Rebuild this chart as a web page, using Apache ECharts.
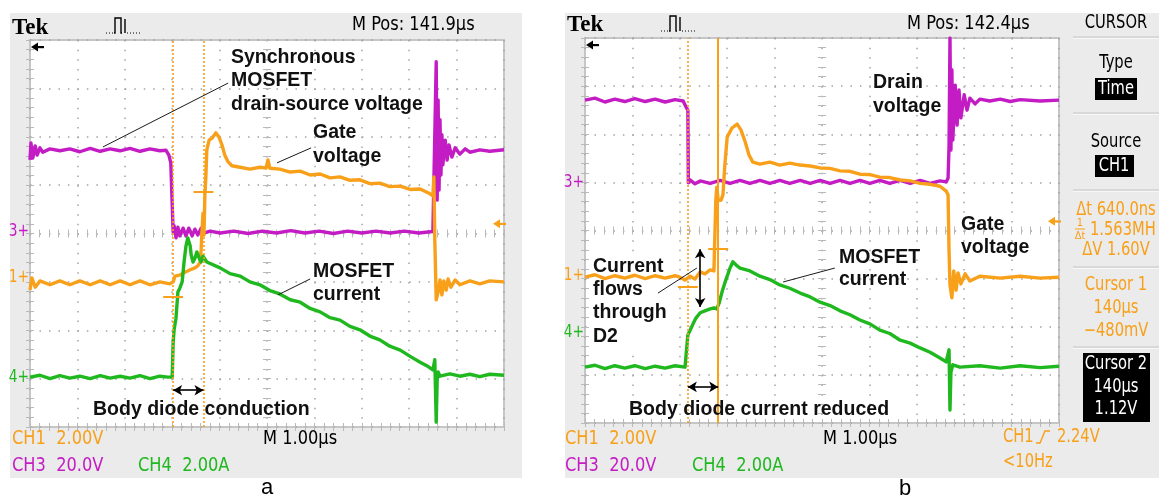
<!DOCTYPE html>
<html>
<head>
<meta charset="utf-8">
<script src="https://cdn.jsdelivr.net/npm/echarts@6/dist/echarts.min.js"></script>
<style>
html,body{margin:0;padding:0;background:#fff;}
#scope{width:1159px;height:496px;}
</style>
</head>
<body>
<div id="scope"></div>
<script>
// Time is in divisions from the left edge of the screen (1.00 µs/div),
// level is in divisions from the bottom of the graticule (8 divisions high).

// ---- screen a: synchronous MOSFET, body diode conducting ----
const gateA = [
  [0,2.83],[0.04,3.08],[0.11,2.89],[0.21,3.02],[0.42,2.94],[0.63,3.02],[0.84,2.94],[1.05,3.02],[1.27,2.94],
  [1.48,3.02],[1.69,2.94],[1.90,3.02],[2.11,2.94],[2.32,3.02],[2.53,2.94],[2.74,3.00],[2.95,2.96],[3.02,3.00],
  [3.06,3.12],[3.16,3.14],[3.27,3.20],[3.38,3.25],[3.48,3.29],[3.54,3.33],[3.59,3.41],[3.61,3.66],[3.63,4.07],
  [3.65,4.42],[3.67,3.97],[3.69,4.80],[3.71,5.17],[3.73,5.73],[3.78,5.93],[3.84,5.97],[3.92,6.08],[3.99,5.99],
  [4.05,5.83],[4.11,5.62],[4.18,5.48],[4.26,5.40],[4.43,5.37],[4.64,5.33],[4.85,5.37],[4.98,5.35],[5.02,5.52],
  [5.06,5.35],[5.27,5.33],[5.49,5.27],[5.70,5.29],[5.91,5.21],[6.12,5.23],[6.33,5.15],[6.54,5.17],[6.75,5.10],
  [6.96,5.11],[7.17,5.03],[7.38,5.04],[7.59,4.97],[7.81,4.98],[8.02,4.91],[8.23,4.92],[8.44,4.82],[8.50,4.78],
  [8.52,5.17],[8.54,3.87],[8.57,2.63],[8.61,2.79],[8.65,3.04],[8.69,2.73],[8.73,3.02],[8.78,2.83],[8.82,3.06],
  [8.88,2.89],[8.97,3.04],[9.07,2.94],[9.28,3.02],[9.49,2.96],[9.70,3.02],[10,3.00]
];
const drainA = [
  [0,5.52],[0.02,5.87],[0.06,5.56],[0.11,5.81],[0.15,5.62],[0.21,5.77],[0.27,5.68],[0.42,5.75],[0.63,5.71],
  [0.84,5.75],[1.05,5.69],[1.27,5.76],[1.48,5.70],[1.69,5.75],[1.90,5.71],[2.11,5.76],[2.32,5.70],[2.53,5.75],
  [2.74,5.71],[2.87,5.72],[2.93,5.62],[2.97,5.46],[3.01,5.46],[3.02,4.03],[3.04,4.16],[3.08,3.91],[3.12,4.13],
  [3.16,3.95],[3.23,4.11],[3.29,3.95],[3.35,4.11],[3.42,3.95],[3.48,4.09],[3.54,3.97],[3.61,4.11],[3.67,4.01],
  [3.80,4.05],[4.01,4.01],[4.30,4.05],[4.60,4.00],[4.90,4.05],[5.20,4.01],[5.50,4.06],[5.80,4.01],[6.10,4.05],
  [6.40,4.00],[6.70,4.05],[7.00,4.01],[7.30,4.05],[7.60,4.01],[7.90,4.05],[8.20,4.01],[8.50,4.04],[8.52,4.07],
  [8.57,7.55],[8.59,4.69],[8.61,6.76],[8.63,4.90],[8.65,6.35],[8.67,5.21],[8.69,6.04],[8.71,5.42],[8.76,5.93],
  [8.80,5.52],[8.84,5.83],[8.90,5.58],[8.97,5.77],[9.07,5.64],[9.18,5.75],[9.28,5.68],[9.49,5.73],[9.70,5.70],[10,5.73]
];
const currentA = [
  [0,1.03],[0.21,1.07],[0.42,1.00],[0.63,1.06],[0.84,1.01],[1.05,1.05],[1.27,1.00],[1.48,1.06],[1.69,1.01],
  [1.90,1.05],[2.11,1.01],[2.32,1.06],[2.53,1.00],[2.74,1.05],[2.91,1.03],[2.95,1.01],[3.00,1.03],[3.02,1.74],
  [3.04,2.01],[3.08,2.25],[3.12,2.79],[3.16,2.87],[3.21,3.00],[3.25,3.41],[3.29,3.74],[3.33,3.91],[3.38,3.74],
  [3.40,3.56],[3.44,3.41],[3.48,3.49],[3.52,3.62],[3.57,3.49],[3.61,3.41],[3.65,3.53],[3.69,3.49],[3.73,3.41],
  [4.01,3.29],[4.22,3.17],[4.43,3.12],[4.64,3.00],[4.85,2.94],[5.06,2.82],[5.27,2.75],[5.49,2.63],[5.70,2.58],
  [5.91,2.45],[6.12,2.38],[6.33,2.26],[6.54,2.21],[6.75,2.08],[6.96,2.01],[7.17,1.88],[7.38,1.80],[7.59,1.67],
  [7.81,1.59],[8.02,1.46],[8.23,1.34],[8.40,1.25],[8.50,1.18],[8.52,1.14],[8.54,1.39],[8.57,0.10],[8.59,0.97],
  [8.61,1.14],[8.65,1.05],[8.86,1.10],[9.07,1.05],[9.28,1.09],[9.49,1.04],[9.70,1.09],[10,1.07]
];
// ground markers CH1, CH3, CH4
const groundA = [3.08, 4.03, 1.03];
const cursorTimeA = [3.02, 3.66];
const cursorLevelA = [2.69, 4.86];
const conductionArrowLevelA = 0.76;
const leadersA = [
  [[4.18, 7.11], [1.54, 5.79]],
  [[5.93, 5.77], [5.21, 5.46]],
  [[5.91, 3.06], [5.23, 2.73]]
];

// ---- screen b: body diode current reduced ----
const gateB = [
  [0,3.03],[0.21,3.08],[0.42,3.00],[0.63,3.06],[0.84,3.01],[1.05,3.07],[1.27,3.00],[1.48,3.06],[1.69,3.01],
  [1.90,3.06],[2.00,3.03],[2.11,2.97],[2.22,3.05],[2.32,2.99],[2.43,3.14],[2.53,3.10],[2.64,3.18],[2.72,3.16],
  [2.76,4.63],[2.78,4.90],[2.81,4.63],[2.87,4.63],[2.91,4.74],[2.95,5.36],[3.00,5.94],[3.10,6.13],[3.21,6.21],
  [3.29,6.09],[3.38,5.84],[3.46,5.57],[3.54,5.42],[3.69,5.38],[3.90,5.42],[4.11,5.36],[4.32,5.40],[4.54,5.36],
  [4.75,5.34],[4.96,5.30],[5.17,5.29],[5.38,5.24],[5.59,5.23],[5.80,5.17],[6.01,5.16],[6.22,5.11],[6.43,5.10],
  [6.65,5.05],[6.86,5.03],[7.07,4.98],[7.28,4.96],[7.49,4.92],[7.62,4.82],[7.66,4.74],[7.68,3.59],[7.70,2.87],
  [7.74,2.60],[7.78,3.16],[7.83,2.76],[7.87,3.12],[7.93,2.89],[8.02,3.10],[8.12,2.95],[8.33,3.05],[8.76,3.01],
  [9.18,3.05],[9.60,3.01],[10,3.03]
];
const drainB = [
  [0,6.71],[0.21,6.75],[0.42,6.67],[0.63,6.73],[0.84,6.68],[1.05,6.74],[1.27,6.68],[1.48,6.73],[1.69,6.67],
  [1.90,6.72],[2.07,6.69],[2.13,6.57],[2.17,6.50],[2.18,4.99],[2.22,5.05],[2.32,4.97],[2.43,5.03],[2.64,4.98],
  [2.85,5.04],[3.06,4.98],[3.27,5.04],[3.48,4.98],[3.69,5.04],[3.90,4.98],[4.11,5.04],[4.32,4.98],[4.54,5.04],
  [4.75,4.98],[4.96,5.04],[5.17,4.98],[5.38,5.04],[5.59,4.98],[5.80,5.04],[6.01,4.98],[6.22,5.04],[6.43,4.98],
  [6.65,5.04],[6.86,4.98],[7.07,5.04],[7.28,4.98],[7.49,5.03],[7.62,5.01],[7.66,5.09],[7.68,5.76],[7.70,8.00],
  [7.72,5.67],[7.74,7.34],[7.76,5.88],[7.81,7.02],[7.85,6.19],[7.89,6.92],[7.93,6.34],[8.00,6.82],[8.06,6.50],
  [8.12,6.75],[8.23,6.63],[8.33,6.73],[8.54,6.69],[8.76,6.73],[8.97,6.68],[9.18,6.72],[9.60,6.69],[10,6.71]
];
const currentB = [
  [0,1.16],[0.21,1.20],[0.42,1.13],[0.63,1.19],[0.84,1.14],[1.05,1.19],[1.27,1.13],[1.48,1.18],[1.69,1.14],
  [1.90,1.19],[2.11,1.16],[2.15,1.18],[2.17,1.83],[2.22,1.93],[2.28,2.06],[2.34,2.18],[2.43,2.29],[2.53,2.33],
  [2.64,2.37],[2.72,2.39],[2.78,2.37],[2.83,2.49],[2.89,2.72],[2.97,2.97],[3.06,3.22],[3.12,3.35],[3.19,3.28],
  [3.27,3.22],[3.48,3.16],[3.69,3.05],[3.90,2.98],[4.11,2.87],[4.32,2.80],[4.54,2.70],[4.75,2.62],[4.96,2.51],
  [5.17,2.44],[5.38,2.33],[5.59,2.25],[5.80,2.14],[6.01,2.06],[6.22,1.93],[6.43,1.86],[6.65,1.72],[6.86,1.66],
  [7.07,1.56],[7.28,1.47],[7.49,1.35],[7.62,1.27],[7.66,1.25],[7.68,1.52],[7.70,0.27],[7.72,1.06],[7.76,1.21],
  [7.91,1.16],[8.33,1.19],[8.76,1.14],[9.18,1.19],[9.60,1.15],[10,1.18]
];
const groundB = [3.07, 4.99, 1.87];
const cursor1TimeB = 2.17;          // div
const cursorDeltaB = 0.64;          // div = 640 ns
const cursorVoltsB = [-0.48, 1.12]; // V on CH1
const triggerVolts = 2.24;          // V on CH1
const ch1VoltsPerDiv = 2.0;
const reducedArrowLevelB = 0.75;
const d2ArrowB = [[2.43, 3.61], [2.43, 2.41]];
const leadersB = [
  [[5.27, 3.22], [4.18, 2.93]],
  [[1.54, 2.70], [2.36, 3.22]]
];

// readouts
const channelScales = ['CH1  2.00V', 'CH3  20.0V', 'CH4  2.00A'];
const timeBase = 'M 1.00\u00b5s';
const horizPos = ['M Pos: 141.9\u00b5s', 'M Pos: 142.4\u00b5s'];

const ORANGE = '#f8a01a', PURPLE = '#c41cc4', GREEN = '#1fb81f';
const GRAT = '#b9b9b9', DOT = '#a3a3a3', PANEL = '#ebebeb';
const UI = '"Liberation Sans Narrow","DejaVu Sans Condensed","Liberation Sans",sans-serif';
const ANN = '"Liberation Sans",Arial,sans-serif';

const screens = [
  {left: 30, top: 40, width: 474, height: 387},
  {left: 585, top: 38, width: 474, height: 385}
];

function axesFor(gi, p) {
  const xDot = p.width / 50, yDot = p.height / 40;
  const tick = {show: true, inside: true, length: 4, lineStyle: {color: GRAT, width: 1}};
  const minor = {show: true, splitNumber: 5, length: 4, lineStyle: {color: GRAT, width: 1}};
  const centerTick = {show: true, inside: true, length: 8, lineStyle: {color: GRAT, width: 1}};
  const centerMinor = {show: true, splitNumber: 5, length: 8, lineStyle: {color: GRAT, width: 1}};
  const base = {gridIndex: gi, type: 'value', min: 0, interval: 1, axisLine: {show: false}, axisLabel: {show: false}, silent: true};
  const xs = [
    Object.assign({}, base, {max: 10, position: 'bottom', axisTick: tick, minorTick: minor,
      splitLine: {show: true, lineStyle: {color: DOT, width: 1.5, type: [1.5, yDot - 1.5]}}}),
    Object.assign({}, base, {max: 10, position: 'top', axisTick: tick, minorTick: minor, splitLine: {show: false}}),
    Object.assign({}, base, {max: 10, position: 'bottom', offset: -(p.height / 2 - 4), axisTick: centerTick, minorTick: centerMinor, splitLine: {show: false}})
  ];
  const ys = [
    Object.assign({}, base, {max: 8, position: 'left', axisTick: tick, minorTick: minor,
      splitLine: {show: true, lineStyle: {color: DOT, width: 1.5, type: [1.5, xDot - 1.5]}}}),
    Object.assign({}, base, {max: 8, position: 'right', axisTick: tick, minorTick: minor, splitLine: {show: false}}),
    Object.assign({}, base, {max: 8, position: 'left', offset: -(p.width / 2 - 4), axisTick: centerTick, minorTick: centerMinor, splitLine: {show: false}})
  ];
  return {xs, ys};
}

const axA = axesFor(0, screens[0]);
const axB = axesFor(1, screens[1]);

function trace(data, color, axisIdx, z) {
  return {type: 'line', data, xAxisIndex: axisIdx, yAxisIndex: axisIdx, showSymbol: false, symbol: 'none',
    lineStyle: {color, width: 3.4, join: 'round'}, z: z, silent: true, animation: false};
}

const dotted = {color: ORANGE, width: 1.6, type: [2, 2]};
const solidO = {color: ORANGE, width: 2, type: 'solid'};
const leaderStyle = {color: '#1a1a1a', width: 1, type: 'solid'};
const arrowStyle = {color: '#000', width: 1.6, type: 'solid'};
const tickHalf = 0.21;

function seg(a, b, style) { return [{coord: a, lineStyle: style}, {coord: b}]; }
function dblArrow(a, b) {
  return [{coord: a, lineStyle: arrowStyle, symbol: 'arrow', symbolSize: [8, 9]}, {coord: b, symbol: 'arrow', symbolSize: [8, 9]}];
}

const ch1LevelB = v => groundB[0] + v / ch1VoltsPerDiv;
const cursorTimeB = [cursor1TimeB, cursor1TimeB + cursorDeltaB];
const cursorLevelB = cursorVoltsB.map(ch1LevelB);

const markA = {
  silent: true, animation: false, symbol: ['none', 'none'], label: {show: false}, z: 5,
  data: [
    {xAxis: cursorTimeA[0], lineStyle: dotted},
    {xAxis: cursorTimeA[1], lineStyle: dotted},
    seg([cursorTimeA[0] - tickHalf, cursorLevelA[0]], [cursorTimeA[0] + tickHalf, cursorLevelA[0]], solidO),
    seg([cursorTimeA[1] - tickHalf, cursorLevelA[1]], [cursorTimeA[1] + tickHalf, cursorLevelA[1]], solidO),
    ...leadersA.map(l => seg(l[0], l[1], leaderStyle)),
    dblArrow([cursorTimeA[0], conductionArrowLevelA], [cursorTimeA[1], conductionArrowLevelA])
  ]
};
const markB = {
  silent: true, animation: false, symbol: ['none', 'none'], label: {show: false}, z: 5,
  data: [
    {xAxis: cursorTimeB[0], lineStyle: dotted},
    {xAxis: cursorTimeB[1], lineStyle: solidO},
    seg([cursorTimeB[0] - tickHalf, cursorLevelB[0]], [cursorTimeB[0] + tickHalf, cursorLevelB[0]], solidO),
    seg([cursorTimeB[1] - tickHalf, cursorLevelB[1]], [cursorTimeB[1] + tickHalf, cursorLevelB[1]], solidO),
    ...leadersB.map(l => seg(l[0], l[1], leaderStyle)),
    dblArrow([cursorTimeB[0], reducedArrowLevelB], [cursorTimeB[1], reducedArrowLevelB]),
    dblArrow(d2ArrowB[0], d2ArrowB[1])
  ]
};

const option = {
  animation: false,
  backgroundColor: '#fff',
  grid: screens.map(p => Object.assign({}, p, {show: true, backgroundColor: '#fff', borderColor: '#c6c6c6', borderWidth: 2, containLabel: false})),
  xAxis: [...axA.xs, ...axB.xs],
  yAxis: [...axA.ys, ...axB.ys],
  series: [
    trace(drainA, PURPLE, 0, 2),
    trace(gateA, ORANGE, 0, 3),
    trace(currentA, GREEN, 0, 4),
    {type: 'line', data: [], xAxisIndex: 0, yAxisIndex: 0, markLine: markA, silent: true},
    trace(drainB, PURPLE, 3, 2),
    trace(gateB, ORANGE, 3, 3),
    trace(currentB, GREEN, 3, 4),
    {type: 'line', data: [], xAxisIndex: 3, yAxisIndex: 3, markLine: markB, silent: true}
  ]
};

const chart = echarts.init(document.getElementById('scope'), null, {renderer: 'canvas', width: 1159, height: 496});
chart.setOption(option);

// ---------- screen furniture (text, markers, menu) ----------
function text(x, y, s, o, sx) {
  return {type: 'text', x, y, z: 20, silent: true, scaleX: sx || 1,
    style: Object.assign({text: s, fill: '#000', fontSize: 19, fontFamily: UI, align: 'left', verticalAlign: 'middle'}, o || {})};
}
// condensed readout text used by the side menu
function menu(x, y, s, o) {
  return text(x, y, s, Object.assign({align: 'center', fontSize: 19}, o || {}), 0.86);
}
function ann(x, y, s, o) {
  return text(x, y, s, Object.assign({fontFamily: ANN, fontWeight: 'bold', fontSize: 19.5, fill: '#111'}, o || {}));
}
function rect(x, y, w, h, fill, z) {
  return {type: 'rect', z: z == null ? -10 : z, silent: true, shape: {x, y, width: w, height: h}, style: {fill}};
}
function line(pts, stroke, w, z, dash) {
  return {type: 'polyline', z: z || 20, silent: true, shape: {points: pts}, style: {stroke, lineWidth: w, fill: null, lineDash: dash || null}};
}
function leftArrow(tipX, y, color) {
  return [
    {type: 'polygon', z: 20, silent: true, shape: {points: [[tipX, y], [tipX + 7, y - 4.5], [tipX + 7, y + 4.5]]}, style: {fill: color}},
    rect(tipX + 6, y - 1, 7, 2.2, color, 20)
  ];
}
function trigIcon(x, y) {
  return [
    line([[x, y], [x + 7, y]], '#000', 1.2, 20, [1, 2]),
    line([[x + 8, y], [x + 9, y], [x + 9, y - 15], [x + 15, y - 15], [x + 15, y], [x + 16, y]], '#000', 1.4),
    line([[x + 19, y - 14], [x + 19, y]], '#000', 1.4),
    line([[x + 21, y], [x + 34, y]], '#000', 1.2, 20, [1, 2])
  ];
}

const toPx = (si, pt) => chart.convertToPixel({seriesIndex: si}, pt);
const g = [];

// panels
g.push(rect(10, 13, 512, 465, PANEL));
g.push(rect(565, 13, 594, 465, PANEL));

// header
g.push(text(12, 28, 'Tek', {fontFamily: '"Liberation Serif","DejaVu Serif",serif', fontWeight: 'bold', fontSize: 23}));
g.push(text(567, 25, 'Tek', {fontFamily: '"Liberation Serif","DejaVu Serif",serif', fontWeight: 'bold', fontSize: 23}));
g.push(...trigIcon(106, 33), ...trigIcon(661, 31));
g.push(text(352, 25, horizPos[0], null, 0.95));
g.push(text(907, 24, horizPos[1], null, 0.95));

// trigger position arrows
g.push(...leftArrow(31, 47, '#000'), ...leftArrow(586, 45, '#000'));

// ground markers and trigger level arrow
const markerText = ['1+', '3+', '4+'];
const markerColor = [ORANGE, PURPLE, GREEN];
[[groundA, 0, screens[0]], [groundB, 4, screens[1]]].forEach(([gr, si, p]) => {
  gr.forEach((lv, k) => {
    const pt = toPx(si, [0, lv]);
    g.push(text(p.left - 1, pt[1], markerText[k], {fill: markerColor[k], align: 'right', fontSize: 17}, 0.9));
  });
  const tp = toPx(si, [10, gr[0] + triggerVolts / ch1VoltsPerDiv]);
  g.push(...leftArrow(tp[0] - 11, tp[1], ORANGE));
});

// bottom readouts
[[12, 263, 138], [565, 823, 692]].forEach(([x0, xm, x4]) => {
  g.push(text(x0, 439, channelScales[0], {fill: ORANGE}, 0.95));
  g.push(text(xm, 439, timeBase, null, 0.95));
  g.push(text(x0, 466, channelScales[1], {fill: PURPLE}, 0.95));
  g.push(text(x4, 466, channelScales[2], {fill: GREEN}, 0.95));
});
g.push(text(1003, 437, 'CH1', {fill: ORANGE}, 0.86));
g.push(line([[1036, 443], [1040, 443], [1045, 431], [1050, 431]], ORANGE, 1.4));
g.push(text(1057, 437, triggerVolts.toFixed(2) + 'V', {fill: ORANGE}, 0.86));
g.push(text(1003, 462, '<10Hz', {fill: ORANGE}, 0.86));

// captions
g.push(text(267, 488, 'a', {fontFamily: ANN, fontSize: 22, align: 'center'}));
g.push(text(905, 489, 'b', {fontFamily: ANN, fontSize: 22, align: 'center'}));

// cursor menu
const mc = 1116;
[37, 113, 190, 267, 347].forEach(y => {
  g.push(line([[1073, y], [1159, y]], '#d2d2d2', 1.5, -5));
  g.push(line([[1073, y + 1.5], [1159, y + 1.5]], '#f8f8f8', 1, -5));
});
g.push(menu(mc, 23, 'CURSOR'));
g.push(menu(mc, 63, 'Type'));
g.push(rect(1095, 78, 42, 22, '#000', 15));
g.push(menu(mc, 89, 'Time', {fill: '#fff'}));
g.push(menu(mc, 142, 'Source'));
g.push(rect(1095, 155, 39, 22, '#000', 15));
g.push(menu(1114, 166, 'CH1', {fill: '#fff'}));
const dtNs = cursorDeltaB * 1000;
const inv = (1000 / dtNs).toFixed(3);
const dv = cursorVoltsB[1] - cursorVoltsB[0];
g.push(menu(mc, 210, '\u0394t ' + dtNs.toFixed(1) + 'ns', {fill: ORANGE}));
g.push(text(1080, 223, '1', {align: 'center', fill: ORANGE, fontSize: 11}));
g.push(line([[1075, 229], [1085, 229]], ORANGE, 1));
g.push(text(1080, 236, '\u0394t', {align: 'center', fill: ORANGE, fontSize: 11}));
g.push(text(1090, 230, inv + 'MH', {fill: ORANGE}, 0.86));
g.push(menu(mc, 250, '\u0394V ' + dv.toFixed(2) + 'V', {fill: ORANGE}));
g.push(menu(mc, 285, 'Cursor 1', {fill: ORANGE}));
g.push(menu(mc, 308, '140\u00b5s', {fill: ORANGE}));
g.push(menu(mc, 331, '\u2212' + Math.round(-cursorVoltsB[0] * 1000) + 'mV', {fill: ORANGE}));
g.push(rect(1083, 353, 67, 69, '#000', 15));
g.push(menu(mc, 364, 'Cursor 2', {fill: '#fff'}));
g.push(menu(mc, 387, '140\u00b5s', {fill: '#fff'}));
g.push(menu(mc, 409, cursorVoltsB[1].toFixed(2) + 'V', {fill: '#fff'}));

// annotations, screen a
g.push(ann(231, 58, 'Synchronous'));
g.push(ann(231, 81, 'MOSFET'));
g.push(ann(231, 105, 'drain-source voltage'));
g.push(ann(313, 133, 'Gate'));
g.push(ann(313, 157, 'voltage'));
g.push(ann(313, 272, 'MOSFET'));
g.push(ann(313, 295, 'current'));
g.push(ann(93, 410, 'Body diode conduction'));

// annotations, screen b
g.push(ann(873, 83, 'Drain'));
g.push(ann(873, 107, 'voltage'));
g.push(ann(961, 225, 'Gate'));
g.push(ann(961, 248, 'voltage'));
g.push(ann(839, 258, 'MOSFET'));
g.push(ann(839, 280, 'current'));
g.push(rect(591, 254, 81, 95, '#fff', 3));
g.push(ann(593, 267, 'Current'));
g.push(ann(593, 290, 'flows'));
g.push(ann(593, 313, 'through'));
g.push(ann(593, 337, 'D2'));
g.push(ann(629, 410, 'Body diode current reduced'));

chart.setOption({graphic: {elements: g}});
</script>
</body>
</html>
